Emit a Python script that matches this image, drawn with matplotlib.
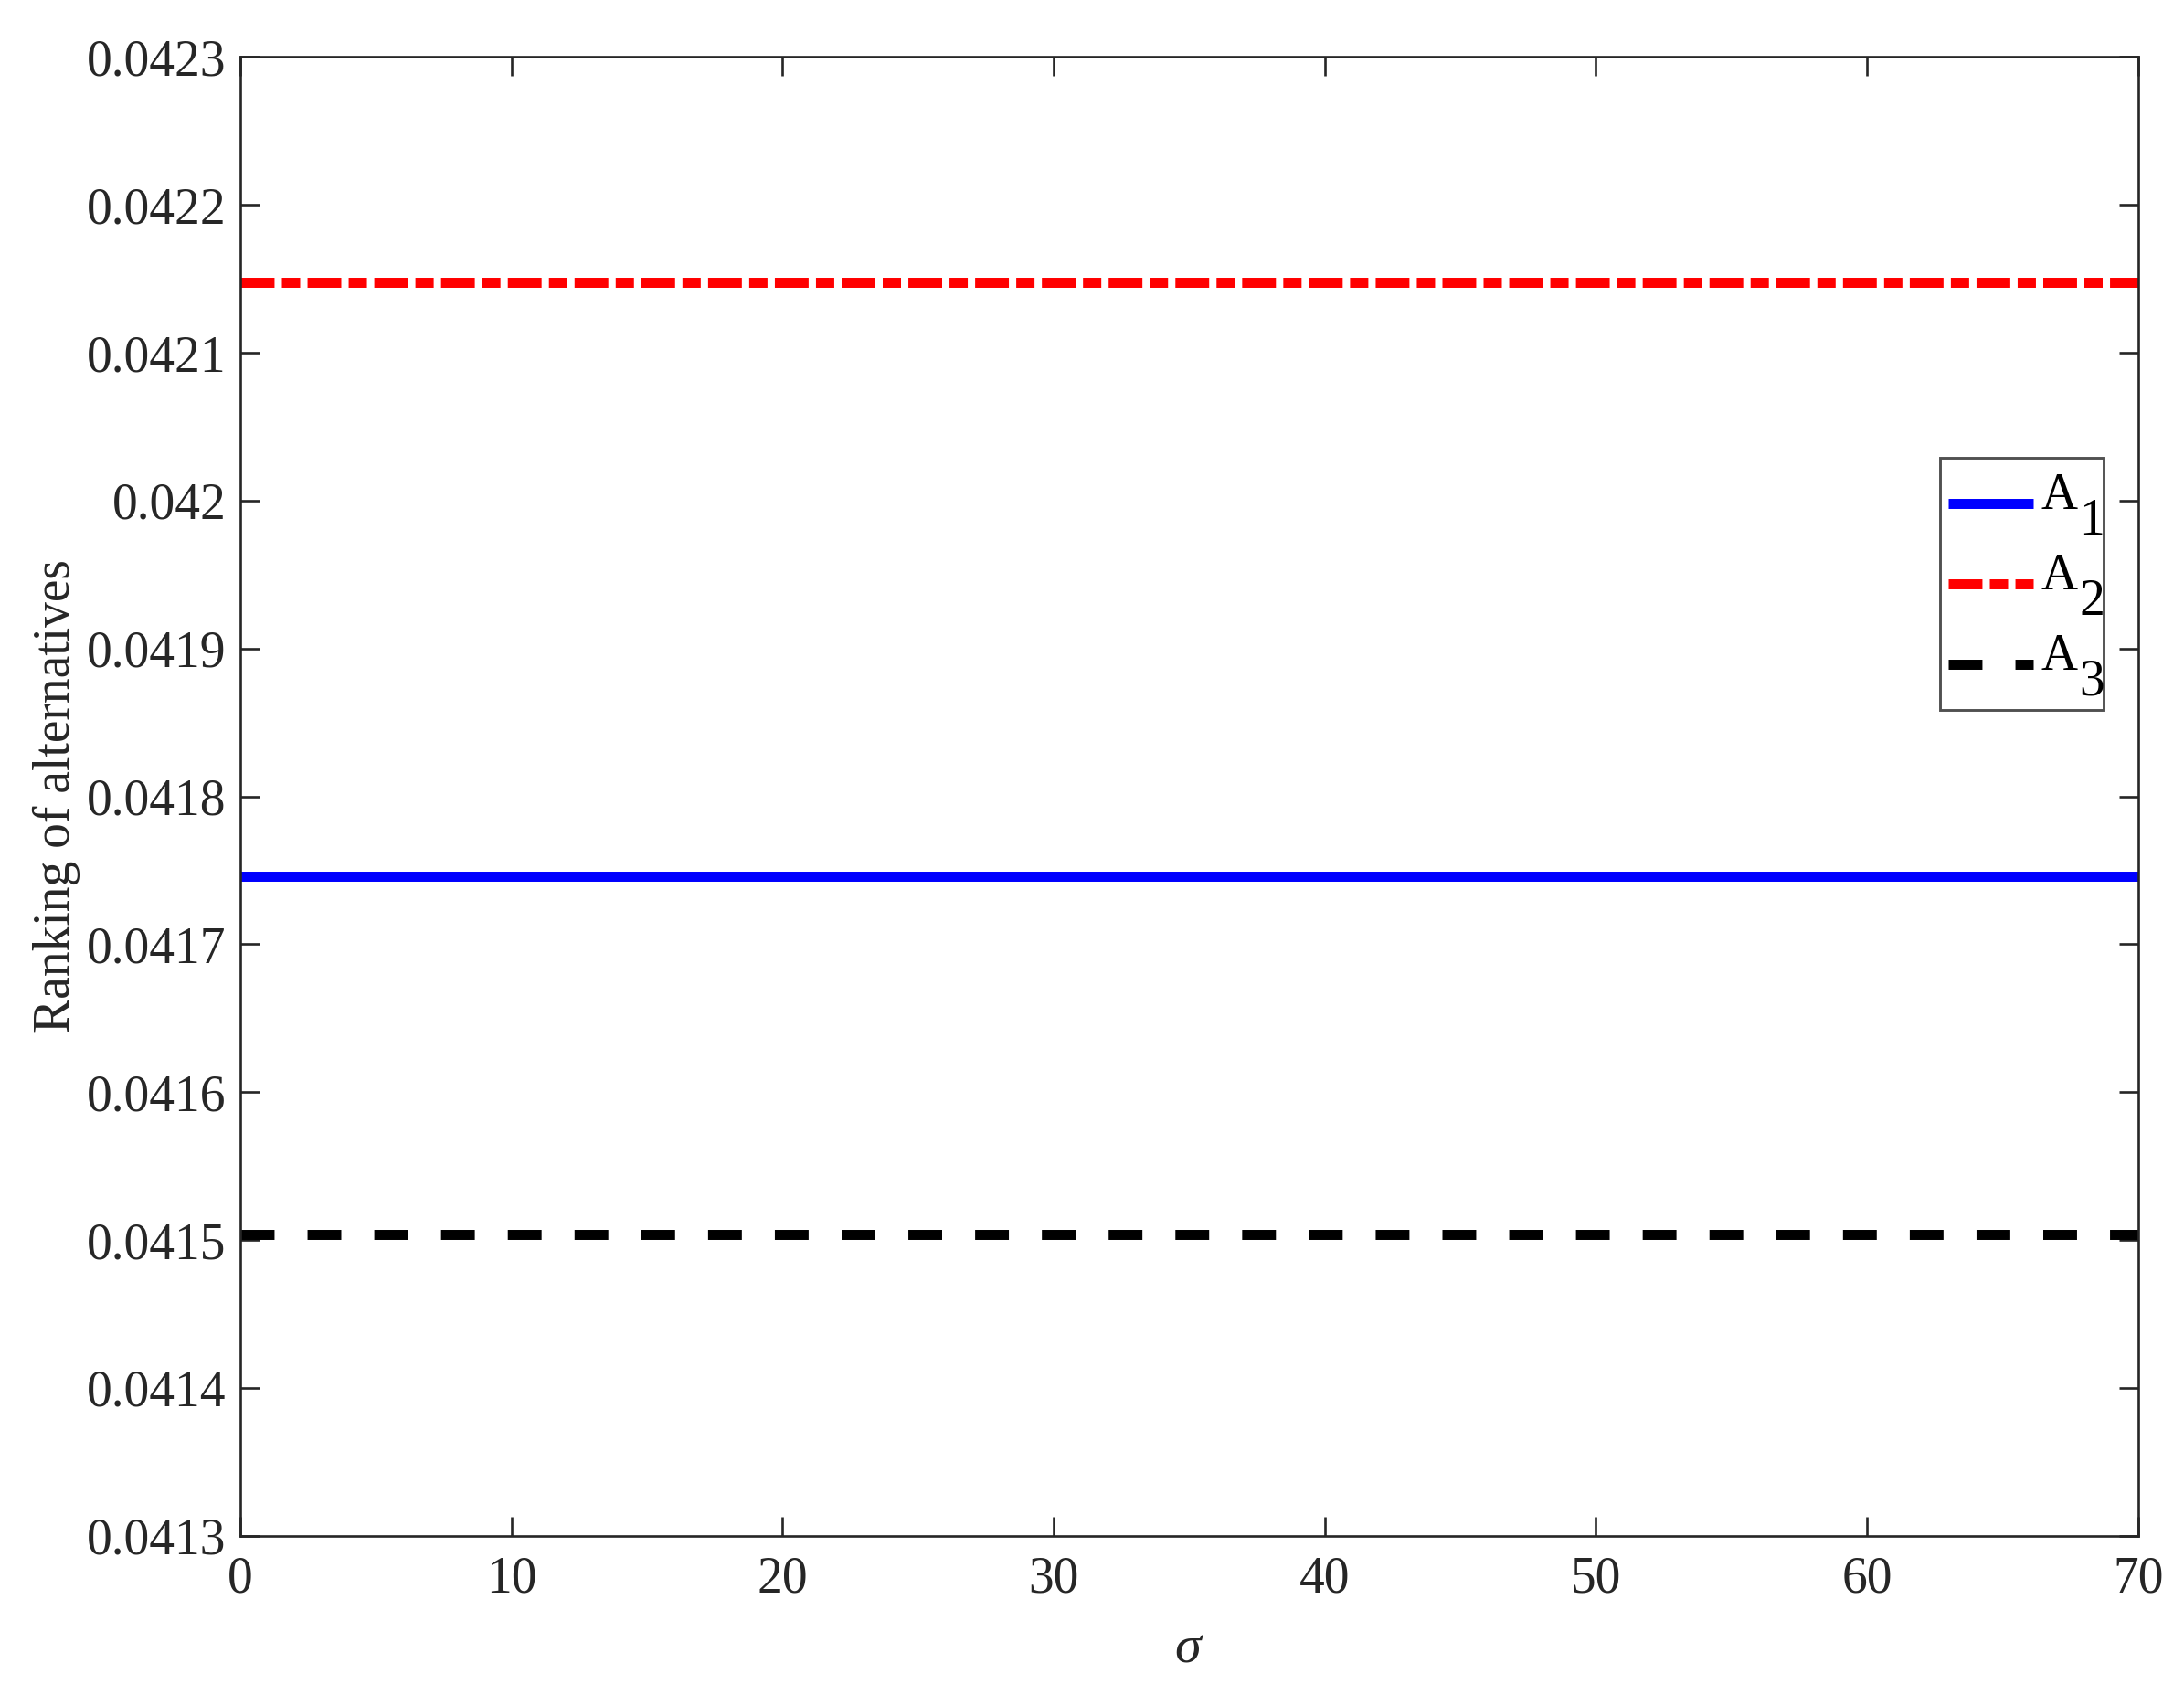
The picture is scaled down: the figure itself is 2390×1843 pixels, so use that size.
import matplotlib
matplotlib.use("Agg")
import matplotlib.pyplot as plt
import numpy as np

plt.rcParams['font.family'] = ['Liberation Serif', 'DejaVu Serif']
plt.rcParams['mathtext.fontset'] = 'custom'
plt.rcParams['mathtext.rm'] = 'Liberation Serif'
plt.rcParams['mathtext.it'] = 'Liberation Serif:italic'
plt.rcParams['lines.scale_dashes'] = False

# Data
sigma = [0, 10, 20, 30, 40, 50, 60, 70]
A1 = [0.0417458, 0.0417458, 0.0417458, 0.0417458, 0.0417458, 0.0417458, 0.0417458, 0.0417458]
A2 = [0.0421475, 0.0421475, 0.0421475, 0.0421475, 0.0421475, 0.0421475, 0.0421475, 0.0421475]
A3 = [0.0415038, 0.0415038, 0.0415038, 0.0415038, 0.0415038, 0.0415038, 0.0415038, 0.0415038]
series_main = ['A', 'A', 'A']
series_sub = ['1', '2', '3']
yticks = [0.0413, 0.0414, 0.0415, 0.0416, 0.0417, 0.0418, 0.0419, 0.0420, 0.0421, 0.0422, 0.0423]
ytick_labels = ['0.0413', '0.0414', '0.0415', '0.0416', '0.0417', '0.0418', '0.0419', '0.042',
                '0.0421', '0.0422', '0.0423']
xticks = [0, 10, 20, 30, 40, 50, 60, 70]
xtick_labels = ['0', '10', '20', '30', '40', '50', '60', '70']

FS = 40
TXT = '#262626'

fig = plt.figure(figsize=(23.9, 18.43), dpi=100)
ax = fig.add_axes([0.110, 0.0881, 0.869, 0.878])

lw = 7.9
labels = [m + s for m, s in zip(series_main, series_sub)]  # layout placeholders (hidden)
ax.plot(sigma, A1, color='#0000ff', lw=lw, solid_capstyle='butt', label=labels[0])
ax.plot(sigma, A2, color='#ff0000', lw=lw, linestyle=(0, (26.6, 5.8, 14.4, 5.8)), label=labels[1])
ax.plot(sigma, A3, color='#000000', lw=lw, linestyle=(0, (26.6, 26.0)), label=labels[2])

ax.set_xlim(0, 70)
ax.set_ylim(0.0413, 0.0423)
ax.set_xticks(xticks)
ax.set_xticklabels(xtick_labels)
ax.set_yticks(yticks)
ax.set_yticklabels(ytick_labels)

ax.tick_params(direction='in', length=15, width=1.9, labelsize=FS, colors=TXT,
               top=True, right=True)
ax.tick_params(axis='x', pad=16)
ax.tick_params(axis='y', pad=11)
for s in ax.spines.values():
    s.set_linewidth(1.9)
    s.set_color(TXT)

ax.set_xlabel(r'$\mathit{\sigma}$', fontsize=42, color=TXT, labelpad=17)
ax.set_ylabel('Ranking of alternatives', fontsize=FS, color=TXT, labelpad=5)

leg = ax.legend(loc='upper right', bbox_to_anchor=(0.9817, 0.729), borderaxespad=0,
                fontsize=FS, frameon=True, fancybox=False, handlelength=1.68,
                handleheight=1.9, handletextpad=0.0, labelspacing=0.1, borderpad=0.16)
leg.get_frame().set_edgecolor(TXT)
leg.get_frame().set_linewidth(2.1)
# lower the legend sample lines a little inside their rows (as in the reference)
for hnd in leg.legend_handles:
    hnd.set_ydata(np.asarray(hnd.get_ydata(), dtype=float) - 8.6)

# legend labels: "A" with a full-size, lowered subscript (MATLAB style)
fig.canvas.draw()
renderer = fig.canvas.get_renderer()
W, H = fig.bbox.width, fig.bbox.height
tmpA = fig.text(0, 0, 'A', fontsize=FS)
wA = tmpA.get_window_extent(renderer).width
tmpA.remove()
for t in leg.get_texts():
    t.set_visible(False)
for hnd, m, s in zip(leg.legend_handles, series_main, series_sub):
    pts = hnd.get_transform().transform(hnd.get_xydata())
    xend = pts[:, 0].max()
    yline = pts[:, 1].mean()
    xa = xend + 8
    fig.text(xa / W, (yline - 6) / H, m, fontsize=FS, va='baseline', ha='left', color='black')
    fig.text((xa + wA + 2) / W, (yline - 34) / H, s, fontsize=FS, va='baseline',
             ha='left', color='black')

fig.savefig('out.png', dpi=100, facecolor='white')
